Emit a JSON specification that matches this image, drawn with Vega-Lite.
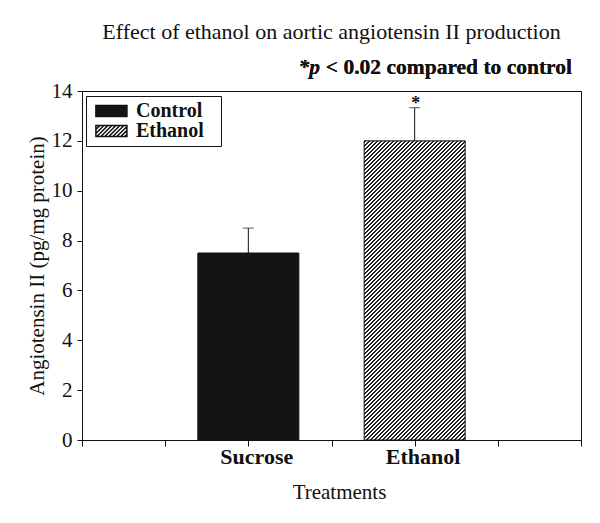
{
  "$schema": "https://vega.github.io/schema/vega-lite/v6.json",
  "autosize": {"type": "none"},
  "width": 499,
  "height": 349,
  "padding": {"left": 82, "top": 91, "right": 19, "bottom": 83},
  "background": "white",
  "params": [
    {"name": "hatch", "value": {"gradient": "linear", "x1": 0, "y1": 0, "x2": 0.4055, "y2": 1.2008, "stops": [
{"offset":0,"color":"#222"},{"offset":0.005,"color":"#222"},{"offset":0.005,"color":"#fff"},{"offset":0.01,"color":"#fff"},
{"offset":0.01,"color":"#222"},{"offset":0.015,"color":"#222"},{"offset":0.015,"color":"#fff"},{"offset":0.02,"color":"#fff"},
{"offset":0.02,"color":"#222"},{"offset":0.025,"color":"#222"},{"offset":0.025,"color":"#fff"},{"offset":0.03,"color":"#fff"},
{"offset":0.03,"color":"#222"},{"offset":0.035,"color":"#222"},{"offset":0.035,"color":"#fff"},{"offset":0.04,"color":"#fff"},
{"offset":0.04,"color":"#222"},{"offset":0.045,"color":"#222"},{"offset":0.045,"color":"#fff"},{"offset":0.05,"color":"#fff"},
{"offset":0.05,"color":"#222"},{"offset":0.055,"color":"#222"},{"offset":0.055,"color":"#fff"},{"offset":0.06,"color":"#fff"},
{"offset":0.06,"color":"#222"},{"offset":0.065,"color":"#222"},{"offset":0.065,"color":"#fff"},{"offset":0.07,"color":"#fff"},
{"offset":0.07,"color":"#222"},{"offset":0.075,"color":"#222"},{"offset":0.075,"color":"#fff"},{"offset":0.08,"color":"#fff"},
{"offset":0.08,"color":"#222"},{"offset":0.085,"color":"#222"},{"offset":0.085,"color":"#fff"},{"offset":0.09,"color":"#fff"},
{"offset":0.09,"color":"#222"},{"offset":0.095,"color":"#222"},{"offset":0.095,"color":"#fff"},{"offset":0.1,"color":"#fff"},
{"offset":0.1,"color":"#222"},{"offset":0.105,"color":"#222"},{"offset":0.105,"color":"#fff"},{"offset":0.11,"color":"#fff"},
{"offset":0.11,"color":"#222"},{"offset":0.115,"color":"#222"},{"offset":0.115,"color":"#fff"},{"offset":0.12,"color":"#fff"},
{"offset":0.12,"color":"#222"},{"offset":0.125,"color":"#222"},{"offset":0.125,"color":"#fff"},{"offset":0.13,"color":"#fff"},
{"offset":0.13,"color":"#222"},{"offset":0.135,"color":"#222"},{"offset":0.135,"color":"#fff"},{"offset":0.14,"color":"#fff"},
{"offset":0.14,"color":"#222"},{"offset":0.145,"color":"#222"},{"offset":0.145,"color":"#fff"},{"offset":0.15,"color":"#fff"},
{"offset":0.15,"color":"#222"},{"offset":0.155,"color":"#222"},{"offset":0.155,"color":"#fff"},{"offset":0.16,"color":"#fff"},
{"offset":0.16,"color":"#222"},{"offset":0.165,"color":"#222"},{"offset":0.165,"color":"#fff"},{"offset":0.17,"color":"#fff"},
{"offset":0.17,"color":"#222"},{"offset":0.175,"color":"#222"},{"offset":0.175,"color":"#fff"},{"offset":0.18,"color":"#fff"},
{"offset":0.18,"color":"#222"},{"offset":0.185,"color":"#222"},{"offset":0.185,"color":"#fff"},{"offset":0.19,"color":"#fff"},
{"offset":0.19,"color":"#222"},{"offset":0.195,"color":"#222"},{"offset":0.195,"color":"#fff"},{"offset":0.2,"color":"#fff"},
{"offset":0.2,"color":"#222"},{"offset":0.205,"color":"#222"},{"offset":0.205,"color":"#fff"},{"offset":0.21,"color":"#fff"},
{"offset":0.21,"color":"#222"},{"offset":0.215,"color":"#222"},{"offset":0.215,"color":"#fff"},{"offset":0.22,"color":"#fff"},
{"offset":0.22,"color":"#222"},{"offset":0.225,"color":"#222"},{"offset":0.225,"color":"#fff"},{"offset":0.23,"color":"#fff"},
{"offset":0.23,"color":"#222"},{"offset":0.235,"color":"#222"},{"offset":0.235,"color":"#fff"},{"offset":0.24,"color":"#fff"},
{"offset":0.24,"color":"#222"},{"offset":0.245,"color":"#222"},{"offset":0.245,"color":"#fff"},{"offset":0.25,"color":"#fff"},
{"offset":0.25,"color":"#222"},{"offset":0.255,"color":"#222"},{"offset":0.255,"color":"#fff"},{"offset":0.26,"color":"#fff"},
{"offset":0.26,"color":"#222"},{"offset":0.265,"color":"#222"},{"offset":0.265,"color":"#fff"},{"offset":0.27,"color":"#fff"},
{"offset":0.27,"color":"#222"},{"offset":0.275,"color":"#222"},{"offset":0.275,"color":"#fff"},{"offset":0.28,"color":"#fff"},
{"offset":0.28,"color":"#222"},{"offset":0.285,"color":"#222"},{"offset":0.285,"color":"#fff"},{"offset":0.29,"color":"#fff"},
{"offset":0.29,"color":"#222"},{"offset":0.295,"color":"#222"},{"offset":0.295,"color":"#fff"},{"offset":0.3,"color":"#fff"},
{"offset":0.3,"color":"#222"},{"offset":0.305,"color":"#222"},{"offset":0.305,"color":"#fff"},{"offset":0.31,"color":"#fff"},
{"offset":0.31,"color":"#222"},{"offset":0.315,"color":"#222"},{"offset":0.315,"color":"#fff"},{"offset":0.32,"color":"#fff"},
{"offset":0.32,"color":"#222"},{"offset":0.325,"color":"#222"},{"offset":0.325,"color":"#fff"},{"offset":0.33,"color":"#fff"},
{"offset":0.33,"color":"#222"},{"offset":0.335,"color":"#222"},{"offset":0.335,"color":"#fff"},{"offset":0.34,"color":"#fff"},
{"offset":0.34,"color":"#222"},{"offset":0.345,"color":"#222"},{"offset":0.345,"color":"#fff"},{"offset":0.35,"color":"#fff"},
{"offset":0.35,"color":"#222"},{"offset":0.355,"color":"#222"},{"offset":0.355,"color":"#fff"},{"offset":0.36,"color":"#fff"},
{"offset":0.36,"color":"#222"},{"offset":0.365,"color":"#222"},{"offset":0.365,"color":"#fff"},{"offset":0.37,"color":"#fff"},
{"offset":0.37,"color":"#222"},{"offset":0.375,"color":"#222"},{"offset":0.375,"color":"#fff"},{"offset":0.38,"color":"#fff"},
{"offset":0.38,"color":"#222"},{"offset":0.385,"color":"#222"},{"offset":0.385,"color":"#fff"},{"offset":0.39,"color":"#fff"},
{"offset":0.39,"color":"#222"},{"offset":0.395,"color":"#222"},{"offset":0.395,"color":"#fff"},{"offset":0.4,"color":"#fff"},
{"offset":0.4,"color":"#222"},{"offset":0.405,"color":"#222"},{"offset":0.405,"color":"#fff"},{"offset":0.41,"color":"#fff"},
{"offset":0.41,"color":"#222"},{"offset":0.415,"color":"#222"},{"offset":0.415,"color":"#fff"},{"offset":0.42,"color":"#fff"},
{"offset":0.42,"color":"#222"},{"offset":0.425,"color":"#222"},{"offset":0.425,"color":"#fff"},{"offset":0.43,"color":"#fff"},
{"offset":0.43,"color":"#222"},{"offset":0.435,"color":"#222"},{"offset":0.435,"color":"#fff"},{"offset":0.44,"color":"#fff"},
{"offset":0.44,"color":"#222"},{"offset":0.445,"color":"#222"},{"offset":0.445,"color":"#fff"},{"offset":0.45,"color":"#fff"},
{"offset":0.45,"color":"#222"},{"offset":0.455,"color":"#222"},{"offset":0.455,"color":"#fff"},{"offset":0.46,"color":"#fff"},
{"offset":0.46,"color":"#222"},{"offset":0.465,"color":"#222"},{"offset":0.465,"color":"#fff"},{"offset":0.47,"color":"#fff"},
{"offset":0.47,"color":"#222"},{"offset":0.475,"color":"#222"},{"offset":0.475,"color":"#fff"},{"offset":0.48,"color":"#fff"},
{"offset":0.48,"color":"#222"},{"offset":0.485,"color":"#222"},{"offset":0.485,"color":"#fff"},{"offset":0.49,"color":"#fff"},
{"offset":0.49,"color":"#222"},{"offset":0.495,"color":"#222"},{"offset":0.495,"color":"#fff"},{"offset":0.5,"color":"#fff"},
{"offset":0.5,"color":"#222"},{"offset":0.505,"color":"#222"},{"offset":0.505,"color":"#fff"},{"offset":0.51,"color":"#fff"},
{"offset":0.51,"color":"#222"},{"offset":0.515,"color":"#222"},{"offset":0.515,"color":"#fff"},{"offset":0.52,"color":"#fff"},
{"offset":0.52,"color":"#222"},{"offset":0.525,"color":"#222"},{"offset":0.525,"color":"#fff"},{"offset":0.53,"color":"#fff"},
{"offset":0.53,"color":"#222"},{"offset":0.535,"color":"#222"},{"offset":0.535,"color":"#fff"},{"offset":0.54,"color":"#fff"},
{"offset":0.54,"color":"#222"},{"offset":0.545,"color":"#222"},{"offset":0.545,"color":"#fff"},{"offset":0.55,"color":"#fff"},
{"offset":0.55,"color":"#222"},{"offset":0.555,"color":"#222"},{"offset":0.555,"color":"#fff"},{"offset":0.56,"color":"#fff"},
{"offset":0.56,"color":"#222"},{"offset":0.565,"color":"#222"},{"offset":0.565,"color":"#fff"},{"offset":0.57,"color":"#fff"},
{"offset":0.57,"color":"#222"},{"offset":0.575,"color":"#222"},{"offset":0.575,"color":"#fff"},{"offset":0.58,"color":"#fff"},
{"offset":0.58,"color":"#222"},{"offset":0.585,"color":"#222"},{"offset":0.585,"color":"#fff"},{"offset":0.59,"color":"#fff"},
{"offset":0.59,"color":"#222"},{"offset":0.595,"color":"#222"},{"offset":0.595,"color":"#fff"},{"offset":0.6,"color":"#fff"},
{"offset":0.6,"color":"#222"},{"offset":0.605,"color":"#222"},{"offset":0.605,"color":"#fff"},{"offset":0.61,"color":"#fff"},
{"offset":0.61,"color":"#222"},{"offset":0.615,"color":"#222"},{"offset":0.615,"color":"#fff"},{"offset":0.62,"color":"#fff"},
{"offset":0.62,"color":"#222"},{"offset":0.625,"color":"#222"},{"offset":0.625,"color":"#fff"},{"offset":0.63,"color":"#fff"},
{"offset":0.63,"color":"#222"},{"offset":0.635,"color":"#222"},{"offset":0.635,"color":"#fff"},{"offset":0.64,"color":"#fff"},
{"offset":0.64,"color":"#222"},{"offset":0.645,"color":"#222"},{"offset":0.645,"color":"#fff"},{"offset":0.65,"color":"#fff"},
{"offset":0.65,"color":"#222"},{"offset":0.655,"color":"#222"},{"offset":0.655,"color":"#fff"},{"offset":0.66,"color":"#fff"},
{"offset":0.66,"color":"#222"},{"offset":0.665,"color":"#222"},{"offset":0.665,"color":"#fff"},{"offset":0.67,"color":"#fff"},
{"offset":0.67,"color":"#222"},{"offset":0.675,"color":"#222"},{"offset":0.675,"color":"#fff"},{"offset":0.68,"color":"#fff"},
{"offset":0.68,"color":"#222"},{"offset":0.685,"color":"#222"},{"offset":0.685,"color":"#fff"},{"offset":0.69,"color":"#fff"},
{"offset":0.69,"color":"#222"},{"offset":0.695,"color":"#222"},{"offset":0.695,"color":"#fff"},{"offset":0.7,"color":"#fff"},
{"offset":0.7,"color":"#222"},{"offset":0.705,"color":"#222"},{"offset":0.705,"color":"#fff"},{"offset":0.71,"color":"#fff"},
{"offset":0.71,"color":"#222"},{"offset":0.715,"color":"#222"},{"offset":0.715,"color":"#fff"},{"offset":0.72,"color":"#fff"},
{"offset":0.72,"color":"#222"},{"offset":0.725,"color":"#222"},{"offset":0.725,"color":"#fff"},{"offset":0.73,"color":"#fff"},
{"offset":0.73,"color":"#222"},{"offset":0.735,"color":"#222"},{"offset":0.735,"color":"#fff"},{"offset":0.74,"color":"#fff"},
{"offset":0.74,"color":"#222"},{"offset":0.745,"color":"#222"},{"offset":0.745,"color":"#fff"},{"offset":0.75,"color":"#fff"},
{"offset":0.75,"color":"#222"},{"offset":0.755,"color":"#222"},{"offset":0.755,"color":"#fff"},{"offset":0.76,"color":"#fff"},
{"offset":0.76,"color":"#222"},{"offset":0.765,"color":"#222"},{"offset":0.765,"color":"#fff"},{"offset":0.77,"color":"#fff"},
{"offset":0.77,"color":"#222"},{"offset":0.775,"color":"#222"},{"offset":0.775,"color":"#fff"},{"offset":0.78,"color":"#fff"},
{"offset":0.78,"color":"#222"},{"offset":0.785,"color":"#222"},{"offset":0.785,"color":"#fff"},{"offset":0.79,"color":"#fff"},
{"offset":0.79,"color":"#222"},{"offset":0.795,"color":"#222"},{"offset":0.795,"color":"#fff"},{"offset":0.8,"color":"#fff"},
{"offset":0.8,"color":"#222"},{"offset":0.805,"color":"#222"},{"offset":0.805,"color":"#fff"},{"offset":0.81,"color":"#fff"},
{"offset":0.81,"color":"#222"},{"offset":0.815,"color":"#222"},{"offset":0.815,"color":"#fff"},{"offset":0.82,"color":"#fff"},
{"offset":0.82,"color":"#222"},{"offset":0.825,"color":"#222"},{"offset":0.825,"color":"#fff"},{"offset":0.83,"color":"#fff"},
{"offset":0.83,"color":"#222"},{"offset":0.835,"color":"#222"},{"offset":0.835,"color":"#fff"},{"offset":0.84,"color":"#fff"},
{"offset":0.84,"color":"#222"},{"offset":0.845,"color":"#222"},{"offset":0.845,"color":"#fff"},{"offset":0.85,"color":"#fff"},
{"offset":0.85,"color":"#222"},{"offset":0.855,"color":"#222"},{"offset":0.855,"color":"#fff"},{"offset":0.86,"color":"#fff"},
{"offset":0.86,"color":"#222"},{"offset":0.865,"color":"#222"},{"offset":0.865,"color":"#fff"},{"offset":0.87,"color":"#fff"},
{"offset":0.87,"color":"#222"},{"offset":0.875,"color":"#222"},{"offset":0.875,"color":"#fff"},{"offset":0.88,"color":"#fff"},
{"offset":0.88,"color":"#222"},{"offset":0.885,"color":"#222"},{"offset":0.885,"color":"#fff"},{"offset":0.89,"color":"#fff"},
{"offset":0.89,"color":"#222"},{"offset":0.895,"color":"#222"},{"offset":0.895,"color":"#fff"},{"offset":0.9,"color":"#fff"},
{"offset":0.9,"color":"#222"},{"offset":0.905,"color":"#222"},{"offset":0.905,"color":"#fff"},{"offset":0.91,"color":"#fff"},
{"offset":0.91,"color":"#222"},{"offset":0.915,"color":"#222"},{"offset":0.915,"color":"#fff"},{"offset":0.92,"color":"#fff"},
{"offset":0.92,"color":"#222"},{"offset":0.925,"color":"#222"},{"offset":0.925,"color":"#fff"},{"offset":0.93,"color":"#fff"},
{"offset":0.93,"color":"#222"},{"offset":0.935,"color":"#222"},{"offset":0.935,"color":"#fff"},{"offset":0.94,"color":"#fff"},
{"offset":0.94,"color":"#222"},{"offset":0.945,"color":"#222"},{"offset":0.945,"color":"#fff"},{"offset":0.95,"color":"#fff"},
{"offset":0.95,"color":"#222"},{"offset":0.955,"color":"#222"},{"offset":0.955,"color":"#fff"},{"offset":0.96,"color":"#fff"},
{"offset":0.96,"color":"#222"},{"offset":0.965,"color":"#222"},{"offset":0.965,"color":"#fff"},{"offset":0.97,"color":"#fff"},
{"offset":0.97,"color":"#222"},{"offset":0.975,"color":"#222"},{"offset":0.975,"color":"#fff"},{"offset":0.98,"color":"#fff"},
{"offset":0.98,"color":"#222"},{"offset":0.985,"color":"#222"},{"offset":0.985,"color":"#fff"},{"offset":0.99,"color":"#fff"},
{"offset":0.99,"color":"#222"},{"offset":0.995,"color":"#222"},{"offset":0.995,"color":"#fff"},{"offset":1,"color":"#fff"}
    ]}}
  ],
  "title": {
    "text": "Effect of ethanol on aortic angiotensin II production",
    "anchor": "middle",
    "frame": "group",
    "offset": -4,
    "baseline": "alphabetic",
    "font": "Liberation Serif",
    "fontSize": 22,
    "fontWeight": "normal",
    "color": "#111"
  },
  "data": {
    "values": [
      {"treatment": "Sucrose", "group": "Control", "mean": 7.5, "upper": 8.5, "sig": ""},
      {"treatment": "Ethanol", "group": "Ethanol", "mean": 12.0, "upper": 13.33, "sig": "*"}
    ]
  },
  "encoding": {
    "x": {
      "field": "treatment",
      "type": "nominal",
      "scale": {"type": "point", "domain": ["t0", "t1", "Sucrose", "t3", "Ethanol", "t5", "t6"], "padding": 0},
      "axis": {
        "title": "Treatments",
        "labelOffset": 8,
        "titleX": 257,
        "labelExpr": "indexof(['Sucrose','Ethanol'], datum.value) >= 0 ? datum.value : ''"
      }
    }
  },
  "layer": [
    {
      "mark": {"type": "bar", "width": 101, "stroke": "#111", "strokeWidth": 1},
      "encoding": {
        "y": {
          "field": "mean",
          "type": "quantitative",
          "scale": {"domain": [0, 14], "nice": false},
          "axis": {"values": [0, 2, 4, 6, 8, 10, 12, 14]},
          "title": "Angiotensin II (pg/mg protein)"
        },
        "color": {
          "field": "treatment",
          "type": "nominal",
          "scale": {"domain": ["Sucrose", "Ethanol"], "range": ["#141414", {"expr": "hatch"}]},
          "legend": null
        }
      }
    },
    {
      "transform": [{"filter": "false"}],
      "mark": {"type": "point", "filled": true, "size": 289, "stroke": "#111", "strokeWidth": 1, "opacity": 1},
      "encoding": {
        "y": {"field": "mean", "type": "quantitative", "title": "Angiotensin II (pg/mg protein)"},
        "stroke": {"value": "#111"},
        "strokeWidth": {"value": 1},
        "fill": {
          "field": "group",
          "type": "nominal",
          "scale": {"domain": ["Control", "Ethanol"], "range": ["#141414", "#ffffff"]},
          "legend": {
            "title": "\u00a0",
            "titleOrient": "right",
            "titleFontSize": 10,
            "titlePadding": 12,
            "orient": "none",
            "legendX": 4,
            "legendY": 5,
            "direction": "vertical",
            "padding": 5,
            "strokeColor": "#111",
            "symbolSize": 289,
            "symbolOpacity": 1,
            "labelFont": "Liberation Serif",
            "labelFontSize": 20,
            "labelFontWeight": "bold",
            "labelColor": "#111",
            "labelOffset": 25,
            "rowPadding": 0
          }
        },
        "shape": {
          "field": "group",
          "type": "nominal",
          "scale": {"domain": ["Control", "Ethanol"], "range": [
            "M-0.6,-0.65H3.05V0.65H-0.6Z",
            "M-0.6,-0.65H3.05V0.65H-0.6ZM-0.6,-0.18L-0.13,-0.65M-0.6,0.29L0.34,-0.65M-0.49,0.65L0.81,-0.65M-0.02,0.65L1.28,-0.65M0.45,0.65L1.75,-0.65M0.92,0.65L2.22,-0.65M1.39,0.65L2.69,-0.65M1.86,0.65L3.05,-0.54M2.33,0.65L3.05,-0.07M2.8,0.65L3.05,0.4"
          ]},
          "legend": {
            "title": "\u00a0",
            "titleOrient": "right",
            "titleFontSize": 10,
            "titlePadding": 12,
            "orient": "none",
            "legendX": 4,
            "legendY": 5,
            "direction": "vertical",
            "padding": 5,
            "strokeColor": "#111",
            "symbolSize": 289,
            "symbolOpacity": 1,
            "labelFont": "Liberation Serif",
            "labelFontSize": 20,
            "labelFontWeight": "bold",
            "labelColor": "#111",
            "labelOffset": 25,
            "rowPadding": 0
          }
        }
      }
    },
    {
      "mark": {"type": "rule", "color": "#111", "strokeWidth": 1},
      "encoding": {
        "y": {"field": "mean", "type": "quantitative", "title": "Angiotensin II (pg/mg protein)"},
        "y2": {"field": "upper"}
      }
    },
    {
      "mark": {"type": "tick", "orient": "horizontal", "size": 11, "thickness": 1, "color": "#111"},
      "encoding": {
        "y": {"field": "upper", "type": "quantitative", "title": "Angiotensin II (pg/mg protein)"}
      }
    },
    {
      "mark": {"type": "text", "font": "Liberation Serif", "fontSize": 18, "fontWeight": "bold", "baseline": "alphabetic", "dy": 1, "dx": 1, "color": "#111"},
      "encoding": {
        "y": {"field": "upper", "type": "quantitative", "title": "Angiotensin II (pg/mg protein)"},
        "text": {"field": "sig"}
      }
    },
    {
      "mark": {"type": "text", "text": "< 0.02 compared to control", "font": "Liberation Serif", "fontSize": 21.5, "fontWeight": "bold", "align": "right", "baseline": "alphabetic", "dx": -9, "dy": -17, "color": "#111"},
      "encoding": {
        "x": {"datum": "t6"},
        "y": {"datum": 14}
      }
    },
    {
      "mark": {"type": "text", "text": "*p", "font": "Liberation Serif", "fontSize": 21.5, "fontWeight": "bold", "fontStyle": "italic", "align": "right", "baseline": "alphabetic", "dx": -261, "dy": -17, "color": "#111"},
      "encoding": {
        "x": {"datum": "t6"},
        "y": {"datum": 14}
      }
    }
  ],
  "config": {
    "font": "Liberation Serif",
    "view": {"stroke": "#111", "strokeWidth": 1},
    "axis": {
      "domainColor": "#111",
      "tickColor": "#111",
      "labelColor": "#111",
      "titleColor": "#111",
      "grid": false,
      "domainWidth": 1,
      "tickWidth": 1,
      "labelFont": "Liberation Serif",
      "titleFont": "Liberation Serif"
    },
    "axisY": {"labelFontSize": 21, "tickSize": 5, "labelPadding": 5, "titleFontSize": 21, "titleFontWeight": "normal", "titlePadding": 4},
    "axisX": {"labelFontSize": 22, "labelFontWeight": "bold", "tickSize": 6, "labelPadding": 0, "labelAngle": 0, "titleFontSize": 21, "titleFontWeight": "normal", "titlePadding": 14}
  }
}
